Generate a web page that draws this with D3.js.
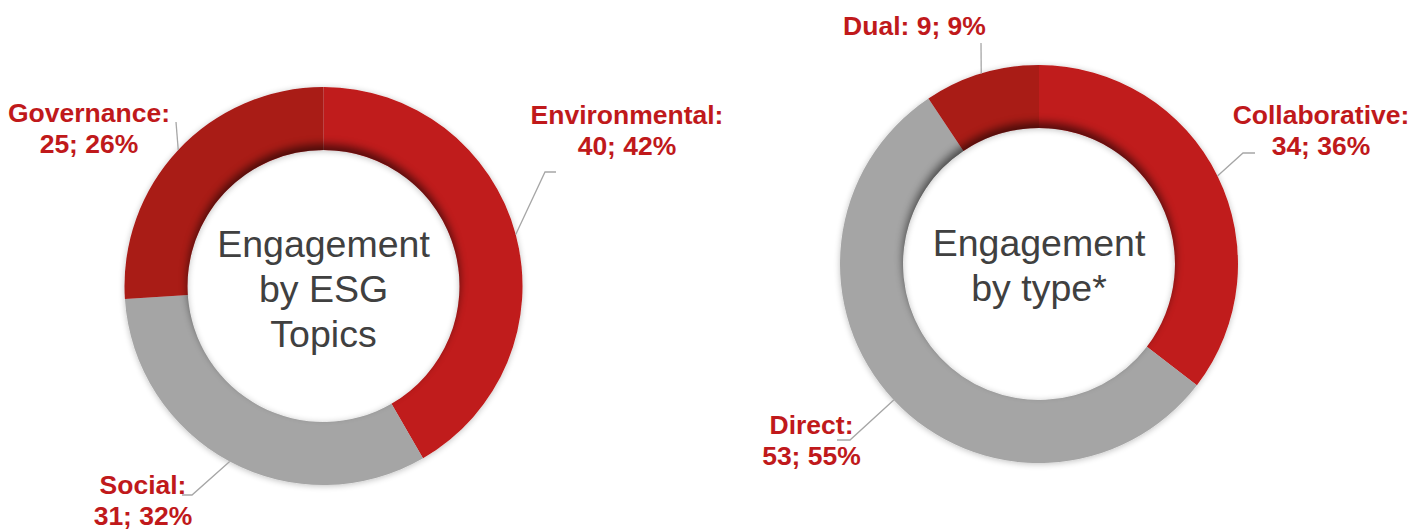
<!DOCTYPE html>
<html><head><meta charset="utf-8">
<script src="https://cdn.jsdelivr.net/npm/d3@7"></script>
<style>
html,body{margin:0;padding:0;background:#fff;}
svg{display:block;font-family:Arial,"Liberation Sans",sans-serif;}
</style></head>
<body>
<svg id="chart" width="1427" height="530"></svg>
<script>
// ---- data ----
const esgCategories = ["Environmental", "Social", "Governance"];
const esgValues = [40, 31, 25];
const esgPercents = [42, 32, 26];
const esgTitle = ["Engagement", "by ESG", "Topics"];

const typeCategories = ["Collaborative", "Direct", "Dual"];
const typeValues = [34, 53, 9];
const typePercents = [36, 55, 9];
const typeTitle = ["Engagement", "by type*"];

// ---- layout / styles ----
const RED = "#C01A1A", DARK = "#A91A18", GREY = "#A5A5A5";
const LABEL = "#C0191B", TITLE = "#404040";
const outerR = 199, innerR = 136;

const charts = [
  {
    cats: esgCategories, vals: esgValues, pcts: esgPercents, title: esgTitle,
    cx: 323.5, cy: 286, colors: [RED, GREY, DARK], titleY: 257,
    labels: [
      {x: 627, y: 123.5, lines: 2, leader: [[545, 172], [556, 172]]},
      {x: 143, y: 494, lines: 2, leader: [[192, 495], [182, 495]]},
      {x: 89,  y: 122, lines: 2, leader: [[176, 122]]}
    ]
  },
  {
    cats: typeCategories, vals: typeValues, pcts: typePercents, title: typeTitle,
    cx: 1039, cy: 264, colors: [RED, GREY, DARK], titleY: 255.5,
    labels: [
      {x: 1321, y: 124, lines: 2, leader: [[1243, 153], [1255, 153]]},
      {x: 811.5, y: 433.5, lines: 2, leader: [[850, 440], [837, 440]]},
      {x: 914.5, y: 35, lines: 1, leader: [[981, 43]]}
    ]
  }
];

const svg = d3.select("#chart");
const defs = svg.append("defs");
defs.append("filter").attr("id", "blurIn").attr("x", "-50%").attr("y", "-50%").attr("width", "200%").attr("height", "200%")
  .append("feGaussianBlur").attr("stdDeviation", 4.5);
const outer = defs.append("filter").attr("id", "outerShadow").attr("x", "-20%").attr("y", "-20%").attr("width", "140%").attr("height", "140%");
outer.append("feGaussianBlur").attr("in", "SourceAlpha").attr("stdDeviation", 3).attr("result", "b");
outer.append("feOffset").attr("in", "b").attr("dx", 0).attr("dy", 1).attr("result", "o");
outer.append("feComponentTransfer").attr("in", "o").attr("result", "s")
  .append("feFuncA").attr("type", "linear").attr("slope", 0.25);
const m = outer.append("feMerge");
m.append("feMergeNode").attr("in", "s");
m.append("feMergeNode").attr("in", "SourceGraphic");

const arc = d3.arc().innerRadius(innerR).outerRadius(outerR);
const edgeArc = d3.arc().innerRadius(outerR).outerRadius(outerR);
const ringArc = d3.arc().innerRadius(innerR).outerRadius(outerR).startAngle(0).endAngle(2 * Math.PI);

charts.forEach((c, ci) => {
  const pie = d3.pie().sort(null).value(d => d)(c.vals);
  const g = svg.append("g").attr("transform", `translate(${c.cx},${c.cy})`);

  const slices = g.append("g").attr("filter", "url(#outerShadow)");
  slices.selectAll("path").data(pie).join("path")
    .attr("d", arc)
    .attr("fill", (d, i) => c.colors[i]);

  // inner shadow on ring near the hole
  const clipId = "ringClip" + ci;
  defs.append("clipPath").attr("id", clipId).append("path").attr("d", ringArc());
  g.append("g").attr("clip-path", `url(#${clipId})`)
    .append("circle").attr("cx", 0).attr("cy", -6).attr("r", innerR)
    .attr("fill", "#000").attr("opacity", 0.55).attr("filter", "url(#blurIn)");

  // centre title
  g.append("text").attr("text-anchor", "middle").attr("fill", TITLE)
    .attr("font-size", 37.5)
    .selectAll("tspan").data(c.title).join("tspan")
    .attr("x", 0).attr("y", (d, i) => c.titleY - c.cy + i * 45)
    .text(d => d);

  // leader lines
  pie.forEach((d, i) => {
    const L = c.labels[i];
    const s = edgeArc.centroid(d);
    const pts = [[s[0] + c.cx, s[1] + c.cy]].concat(L.leader);
    svg.append("path")
      .attr("d", d3.line()(pts))
      .attr("fill", "none").attr("stroke", "#A6A6A6").attr("stroke-width", 1.3);
  });

  // data labels
  pie.forEach((d, i) => {
    const L = c.labels[i];
    const lines = L.lines === 2
      ? [c.cats[i] + ":", `${c.vals[i]}; ${c.pcts[i]}%`]
      : [`${c.cats[i]}: ${c.vals[i]}; ${c.pcts[i]}%`];
    svg.append("text").attr("text-anchor", "middle").attr("fill", LABEL)
      .attr("font-size", 26.5).attr("font-weight", "bold")
      .selectAll("tspan").data(lines).join("tspan")
      .attr("x", L.x).attr("y", (t, j) => L.y + j * 31)
      .text(t => t);
  });
});
</script>
</body></html>
